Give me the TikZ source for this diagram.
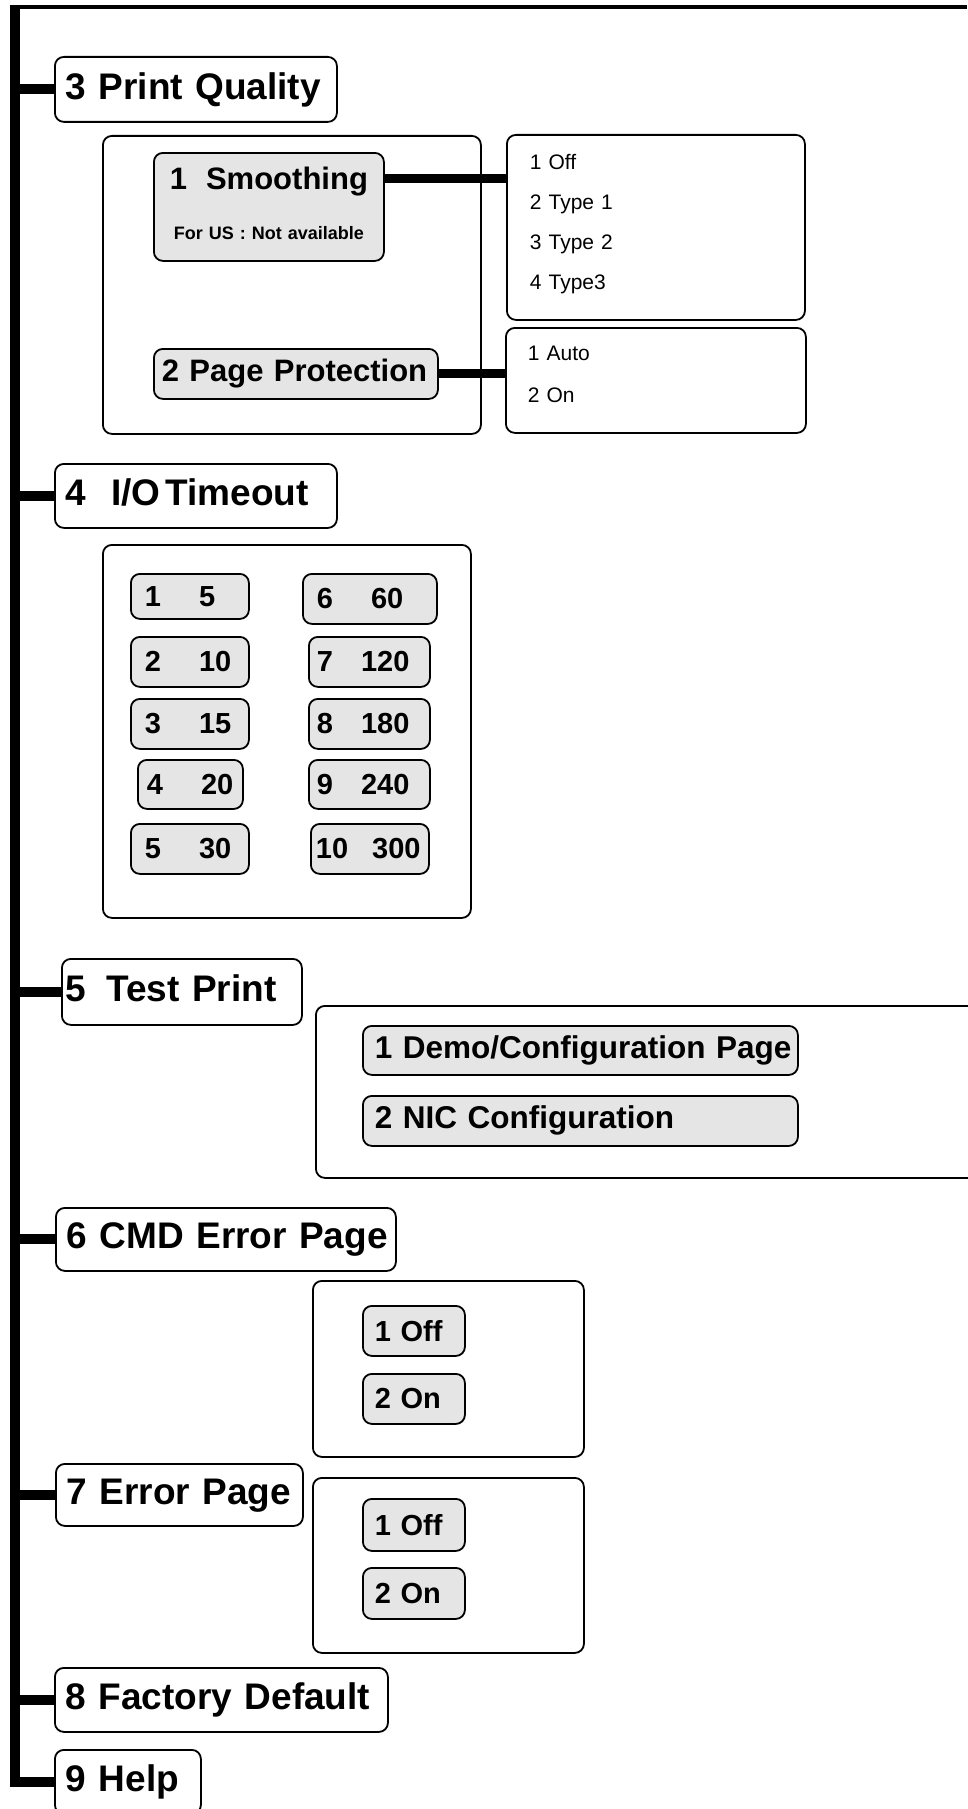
\documentclass[tikz,border=0pt]{standalone}
\usepackage{fontspec}
\setmainfont{Liberation Sans}
\usetikzlibrary{positioning}

\tikzset{
  rbox/.style={draw, line width=1.8pt, rounded corners=9pt, anchor=north west, inner ysep=0pt},
  menuitem/.style={rbox, fill=white, align=left, text depth=7pt,
    font=\bfseries\fontsize{37pt}{40pt}\selectfont},
  panel/.style={rbox},
  choice/.style={rbox, fill=black!10, align=left,
    font=\bfseries\fontsize{29pt}{32pt}\selectfont},
  optlist/.style={rbox, align=left, font=\fontsize{21pt}{40pt}\selectfont},
  trunk/.style={line width=10pt},
  link/.style={line width=9pt},
}

\begin{document}
\begin{tikzpicture}[x=1pt, y=-1pt]
  \useasboundingbox (0,0) rectangle (967,1809);
  \fill[white] (0,0) rectangle (967,1809);

  \node[panel, minimum width=378pt, minimum height=298pt] (pqpanel) at (102,135) {};
  \node[panel, minimum width=368pt, minimum height=373pt] (iopanel) at (102,544) {};
  \node[panel, minimum width=690pt, minimum height=172pt] (tppanel) at (315,1005) {};
  \node[panel, minimum width=271pt, minimum height=176pt] (cmdpanel) at (312,1280) {};
  \node[panel, minimum width=271pt, minimum height=175pt] (eppanel) at (312,1477) {};

  \node[menuitem, text width=260pt, inner xsep=11pt, minimum height=65pt] (pq) at (54,56) {\mbox{3 Print Quality}};
  \node[menuitem, text width=260pt, inner xsep=11pt, minimum height=64pt] (io) at (54,463) {\mbox{4~~I/O\hspace{5pt}Timeout}};
  \node[menuitem, text width=232pt, inner xsep=4pt, minimum height=66pt] (tp) at (61,958) {\mbox{5\hspace{20pt}Test Print}};
  \node[menuitem, text width=318pt, inner xsep=11pt, minimum height=63pt] (cmd) at (55,1207) {\mbox{6 CMD Error Page}};
  \node[menuitem, text width=225pt, inner xsep=11pt, minimum height=62pt] (ep) at (55,1463) {\mbox{7 Error Page}};
  \node[menuitem, text width=311pt, inner xsep=11pt, minimum height=64pt] (fd) at (54,1667) {\mbox{8 Factory Default}};
  \node[menuitem, text width=124pt, inner xsep=11pt, minimum height=64pt] (help) at (54,1749) {\mbox{9 Help}};

  \node[choice, align=center, text width=220pt, inner xsep=5pt, minimum height=108pt,
        font=\bfseries\fontsize{18pt}{50pt}\selectfont] (smooth) at (153,152)
        {{\fontsize{31pt}{50pt}\selectfont 1\hspace{19pt}Smoothing}\\For US : Not available\rule[-8pt]{0pt}{8pt}};
  \node[choice, text width=268pt, inner xsep=8pt, minimum height=50pt,
        font=\bfseries\fontsize{31pt}{34pt}\selectfont] (pageprot) at (153,348) {\mbox{2 Page Protection}};
  \node[optlist, text width=252pt, inner xsep=23pt, minimum height=185pt] (smopts) at (506,134)
        {1 Off\\2 Type 1\\3 Type 2\\4 Type3\rule[-10pt]{0pt}{10pt}};
  \node[optlist, text width=256pt, inner xsep=22pt, minimum height=105pt,
        font=\fontsize{21pt}{42pt}\selectfont] (ppopts) at (505,327) {1 Auto\\2 On\rule[-12pt]{0pt}{12pt}};

  \node[choice, text width=90pt, inner xsep=14pt, minimum height=45pt] (t1) at (130,573) {1\hspace{38pt}5};
  \node[choice, text width=90pt, inner xsep=14pt, minimum height=50pt] (t2) at (130,636) {2\hspace{38pt}10};
  \node[choice, text width=90pt, inner xsep=14pt, minimum height=50pt] (t3) at (130,698) {3\hspace{38pt}15};
  \node[choice, text width=87pt, inner xsep=9pt, minimum height=49pt] (t4) at (137,759) {\mbox{4\hspace{38pt}20}};
  \node[choice, text width=90pt, inner xsep=14pt, minimum height=50pt] (t5) at (130,823) {5\hspace{38pt}30};
  \node[choice, text width=106pt, inner xsep=14pt, minimum height=50pt] (t6) at (302,573) {6\hspace{38pt}60};
  \node[choice, text width=105pt, inner xsep=8pt, minimum height=50pt] (t7) at (308,636) {7\hspace{28pt}120};
  \node[choice, text width=105pt, inner xsep=8pt, minimum height=50pt] (t8) at (308,698) {8\hspace{28pt}180};
  \node[choice, text width=105pt, inner xsep=8pt, minimum height=49pt] (t9) at (308,759) {9\hspace{28pt}240};
  \node[choice, text width=108pt, inner xsep=5pt, minimum height=50pt] (t10) at (310,823) {\mbox{10\hspace{24pt}300}};

  \node[choice, text width=411pt, inner xsep=12pt, minimum height=49pt,
        font=\bfseries\fontsize{31.5pt}{34pt}\selectfont] (demo) at (362,1025) {\mbox{1 Demo/Configuration Page}};
  \node[choice, text width=411pt, inner xsep=12pt, minimum height=50pt,
        font=\bfseries\fontsize{31.5pt}{34pt}\selectfont] (nic) at (362,1095) {\mbox{2 NIC Configuration}};

  \node[choice, text width=78pt, inner xsep=12pt, minimum height=50pt] (cmdoff) at (362,1305) {1 Off};
  \node[choice, text width=78pt, inner xsep=12pt, minimum height=50pt] (cmdon) at (362,1373) {2 On};
  \node[choice, text width=78pt, inner xsep=12pt, minimum height=52pt] (epoff) at (362,1498) {1 Off};
  \node[choice, text width=78pt, inner xsep=12pt, minimum height=51pt] (epon) at (362,1567) {2 On};

  \coordinate (corner) at (10,7.2);
  \coordinate (edge) at (967,7.2);
  \coordinate (trunktop) at (15,5);
  \draw[line width=4.5pt] (corner) -- (edge);
  \draw[trunk] (trunktop) |- (help.west);
  \draw[trunk] (trunktop |- pq.west) -- (pq.west);
  \draw[trunk] (trunktop |- io.west) -- (io.west);
  \draw[trunk] (trunktop |- tp.west) -- (tp.west);
  \draw[trunk] (trunktop |- cmd.west) -- (cmd.west);
  \draw[trunk] (trunktop |- ep.west) -- (ep.west);
  \draw[trunk] (trunktop |- fd.west) -- (fd.west);

  \coordinate (smlink) at ([yshift=-26pt]smooth.north east);
  \draw[link] (smlink) -- (smlink -| smopts.west);
  \draw[link] (pageprot.east) -- (pageprot.east -| ppopts.west);
\end{tikzpicture}
\end{document}
